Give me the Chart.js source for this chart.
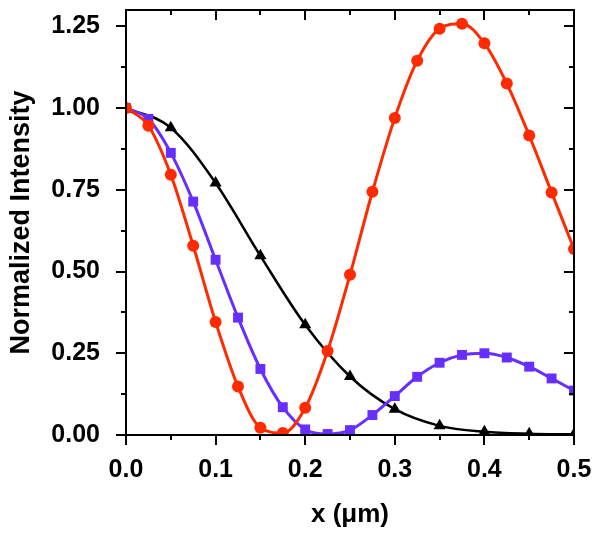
<!DOCTYPE html>
<html>
<head>
<meta charset="utf-8">
<script src="https://cdn.jsdelivr.net/npm/chart.js@4/dist/chart.umd.min.js"></script>
<style>
  html, body { margin: 0; padding: 0; background: #fff; }
  #wrap { width: 602px; height: 536px; }
</style>
</head>
<body>
<div id="wrap"><canvas id="lineChart" width="602" height="536"></canvas></div>
<script>
(function () {
    "use strict";

    // x positions (µm)
    var xFine = [0, 0.025, 0.05, 0.075, 0.1, 0.125, 0.15, 0.175, 0.2, 0.225, 0.25,
                 0.275, 0.3, 0.325, 0.35, 0.375, 0.4, 0.425, 0.45, 0.475, 0.5];
    var xCoarse = [0, 0.05, 0.1, 0.15, 0.2, 0.25, 0.3, 0.35, 0.4, 0.45, 0.5];

    // normalized intensity
    var redValues = [1.00, 0.946, 0.796, 0.579, 0.346, 0.148, 0.022, 0.006, 0.083, 0.257, 0.490,
                     0.744, 0.970, 1.145, 1.243, 1.258, 1.198, 1.075, 0.916, 0.742, 0.569];
    var blueValues = [1.00, 0.967, 0.863, 0.714, 0.536, 0.359, 0.202, 0.085, 0.017, 0.003, 0.015,
                      0.061, 0.119, 0.178, 0.221, 0.245, 0.250, 0.237, 0.209, 0.173, 0.136];
    var blackValues = [1.00, 0.940, 0.771, 0.548, 0.337, 0.179, 0.079, 0.028, 0.010, 0.004, 0.002];

    var xTickLabels = ["0.0", "0.1", "0.2", "0.3", "0.4", "0.5"];
    var yTickLabels = ["0.00", "0.25", "0.50", "0.75", "1.00", "1.25"];

    var FONT = "'Liberation Sans', Arial, Helvetica, sans-serif";

    function pts(xs, ys) {
        return xs.map(function (x, i) { return { x: x, y: ys[i] }; });
    }

    // box frame with major/minor ticks (out on left/bottom, in on top/right)
    var frameTicks = {
        id: 'frameTicks',
        afterDraw: function (chart) {
            var c = chart.ctx, a = chart.chartArea;
            var xs = chart.scales.x, ys = chart.scales.y;
            c.save();
            c.strokeStyle = '#000';
            c.lineWidth = 2;
            c.lineCap = 'butt';
            c.strokeRect(a.left, a.top, a.right - a.left, a.bottom - a.top);
            c.beginPath();
            var i, v, p, len;
            for (i = 0; i <= 10; i++) {
                v = i * 0.05;
                p = Math.round(xs.getPixelForValue(v));
                len = (i % 2 === 0) ? 10 : 5;
                c.moveTo(p, a.bottom); c.lineTo(p, a.bottom + len);
                c.moveTo(p, a.top); c.lineTo(p, a.top + len);
            }
            for (i = 0; i <= 10; i++) {
                v = i * 0.125;
                p = Math.round(ys.getPixelForValue(v));
                len = (i % 2 === 0) ? 10 : 5;
                c.moveTo(a.left, p); c.lineTo(a.left - len, p);
                c.moveTo(a.right, p); c.lineTo(a.right - len, p);
            }
            c.stroke();
            c.restore();
        }
    };

    var ctx = document.getElementById("lineChart");
    var myChart = new Chart(ctx, {
        type: 'line',
        data: {
            datasets: [{
                label: 'red',
                data: pts(xFine, redValues),
                borderColor: "rgb(255, 42, 0)",
                backgroundColor: "rgb(255, 42, 0)",
                borderWidth: 3,
                pointStyle: 'circle',
                pointRadius: 6,
                pointBorderWidth: 0,
                cubicInterpolationMode: 'monotone',
                clip: 0
            }, {
                label: 'blue',
                data: pts(xFine, blueValues),
                borderColor: "rgb(102, 46, 255)",
                backgroundColor: "rgb(102, 46, 255)",
                borderWidth: 3,
                pointStyle: 'rect',
                pointRadius: 7,
                pointBorderWidth: 0,
                cubicInterpolationMode: 'monotone',
                clip: 0
            }, {
                label: 'black',
                data: pts(xCoarse, blackValues),
                borderColor: "#000",
                backgroundColor: "#000",
                borderWidth: 2.5,
                pointStyle: 'triangle',
                pointRadius: 7,
                pointBorderWidth: 0,
                cubicInterpolationMode: 'monotone',
                clip: 0
            }]
        },
        options: {
            responsive: false,
            animation: false,
            events: [],
            layout: { padding: { top: 10, right: 28, left: 0, bottom: 0 } },
            plugins: { legend: { display: false }, tooltip: { enabled: false } },
            scales: {
                x: {
                    type: 'linear',
                    min: 0,
                    max: 0.5,
                    afterFit: function (s) {
                        s.height = 101;
                        s.paddingLeft = 0;
                        s.paddingRight = 0;
                    },
                    grid: { display: false },
                    border: { display: false },
                    ticks: {
                        stepSize: 0.1,
                        padding: 12,
                        color: '#000',
                        font: { family: FONT, size: 25, weight: 'bold' },
                        callback: function (v) {
                            return xTickLabels[Math.round(v * 10)];
                        }
                    },
                    title: {
                        display: true,
                        text: 'x (\u03bcm)',
                        color: '#000',
                        font: { family: FONT, size: 26, weight: 'bold' },
                        padding: { top: 0, bottom: 6 }
                    }
                },
                y: {
                    type: 'linear',
                    min: 0,
                    max: 1.30,
                    afterFit: function (s) {
                        s.width = 126;
                        s.paddingTop = 0;
                        s.paddingBottom = 0;
                    },
                    grid: { display: false },
                    border: { display: false },
                    ticks: {
                        stepSize: 0.25,
                        includeBounds: false,
                        padding: 18,
                        color: '#000',
                        font: { family: FONT, size: 25, weight: 'bold' },
                        callback: function (v) {
                            return yTickLabels[Math.round(v * 4)];
                        }
                    },
                    title: {
                        display: true,
                        text: 'Normalized Intensity',
                        color: '#000',
                        font: { family: FONT, size: 27, weight: 'bold' },
                        padding: { top: 5, bottom: 0 }
                    }
                }
            }
        },
        plugins: [frameTicks]
    });

})();
</script>
</body>
</html>
